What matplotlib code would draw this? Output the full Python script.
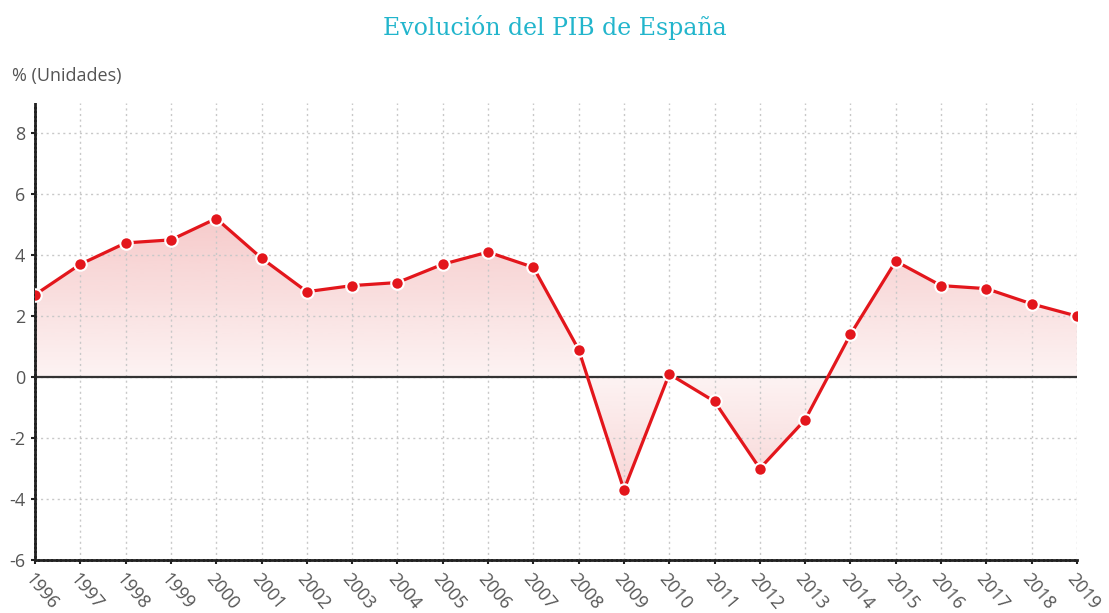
import matplotlib
matplotlib.use('Agg')
import matplotlib.pyplot as plt
import numpy as np
from matplotlib.colors import to_rgb

years = list(range(1996, 2020))
pib = [2.7, 3.7, 4.4, 4.5, 5.2, 3.9, 2.8, 3.0, 3.1, 3.7, 4.1, 3.6,
       0.9, -3.7, 0.1, -0.8, -3.0, -1.4, 1.4, 3.8, 3.0, 2.9, 2.4, 2.0]
yticks = [-6, -4, -2, 0, 2, 4, 6, 8]

red = '#e3161c'
grey_txt = '#555555'

fig = plt.figure(figsize=(11.09, 6.13), dpi=100)
ax = fig.add_axes([0.0316, 0.0865, 0.9395, 0.746])

x = np.array(years)
y = np.array(pib)

# gradient fill: pinker away from zero, fading toward the zero line
fill = ax.fill_between(x, y, 0, color='none', lw=0, zorder=1)
ymin, ymax = -6, 9
yy = np.linspace(ymin, ymax, 400)
alpha = np.clip(np.abs(yy) / 5.0, 0, 1) * 0.38 + 0.12
rgba = np.zeros((len(yy), 1, 4))
rgba[..., :3] = to_rgb('#ee9a9a')
rgba[:, 0, 3] = alpha
im = ax.imshow(rgba, extent=[1996, 2019, ymin, ymax], origin='lower',
               aspect='auto', zorder=1, interpolation='bilinear')
im.set_clip_path(fill.get_paths()[0], transform=ax.transData)

ax.axhline(0, color='#333333', lw=1.6, zorder=2)
ax.plot(x, y, color=red, lw=2.3, zorder=3,
        marker='o', ms=9, mfc=red, mec='white', mew=1.5)

ax.set_xlim(1996, 2019)
ax.set_ylim(ymin, ymax)
ax.set_xticks(years)
ax.set_xticklabels([str(v) for v in years], rotation=-50, ha='left',
                   rotation_mode='anchor', fontsize=13, color=grey_txt,
                   family='Open Sans')
ax.set_yticks(yticks)
ax.set_yticklabels([str(v) for v in yticks], fontsize=13, color=grey_txt,
                   family='Open Sans')

ax.grid(True, color='#c8c8c8', linestyle=(0, (1.5, 2.5)), lw=1, zorder=0)
for s in ['top', 'right']:
    ax.spines[s].set_visible(False)
for s in ['left', 'bottom']:
    ax.spines[s].set_linestyle((0, (1, 0.6)))
    ax.spines[s].set_linewidth(2)
    ax.spines[s].set_color('#222222')
ax.tick_params(axis='both', length=3, width=1.5, color='#222222', pad=4)

fig.text(0.5, 0.955, 'Evolución del PIB de España', ha='center', va='center',
         fontsize=17, color='#22b5cc', family='DejaVu Serif')
fig.text(0.011, 0.876, '% (Unidades)', ha='left', va='center',
         fontsize=13, color=grey_txt, family='Open Sans')

fig.savefig('out.png', dpi=100)
